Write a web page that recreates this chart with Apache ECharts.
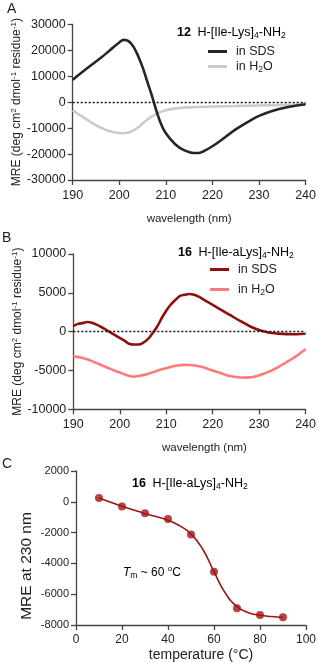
<!DOCTYPE html>
<html>
<head>
<meta charset="utf-8">
<script src="https://cdn.jsdelivr.net/npm/echarts@6/dist/echarts.min.js"></script>
<style>html,body{margin:0;padding:0;background:#fff;}#c{width:319px;height:663px;}</style>
</head>
<body>
<div id="c"></div>
<script>
// Panel A: 12 H-[Ile-Lys]4-NH2
const wlA_SDS = [190,192,194,196,198,200,201,202,203,204,205,206,207,208,209,210,212,214,216,217,218,220,222,225,228,230,233,236,240];
const mreA_SDS = [8600,11500,14300,17000,20000,23000,24000,23500,21500,18000,13500,8000,2500,-3500,-8500,-12000,-16200,-18600,-19600,-19600,-19000,-17000,-14500,-10500,-7200,-5300,-3300,-2000,-800];
const wlA_H2O = [190,192,194,196,198,200,201,202,203,204,205,206,207,208,209,210,212,215,220,225,230,235,240];
const mreA_H2O = [-3200,-5500,-7800,-9800,-11200,-11900,-12000,-11700,-11000,-9800,-8200,-6800,-5500,-4500,-3700,-3100,-2400,-2000,-1700,-1500,-1300,-1100,-900];

// Panel B: 16 H-[Ile-aLys]4-NH2
const wlB_SDS = [190,191,192,193,194,195,196,197,198,199,200,201,202,203,204,205,206,207,208,209,210,211,212,213,214,215,216,217,218,219,220,222,224,226,228,230,232,234,236,238,240];
const mreB_SDS = [700,1000,1100,1250,1150,900,600,250,-100,-450,-800,-1150,-1550,-1650,-1650,-1450,-1000,-250,600,1700,2700,3500,4100,4600,4750,4850,4750,4500,4150,3800,3450,2750,2050,1350,700,200,-100,-250,-320,-330,-270];
const wlB_H2O = [190,191,192,193,194,195,196,197,198,199,200,201,202,203,204,205,206,207,208,209,210,211,212,213,214,215,216,217,218,219,220,221,222,223,224,225,226,227,228,229,230,231,232,233,234,235,236,237,238,239,240];
const mreB_H2O = [-3200,-3250,-3400,-3550,-3800,-4050,-4300,-4550,-4800,-5050,-5250,-5500,-5700,-5800,-5700,-5600,-5450,-5250,-5050,-4850,-4700,-4550,-4400,-4320,-4280,-4300,-4350,-4450,-4600,-4800,-5000,-5200,-5400,-5600,-5750,-5850,-5900,-5920,-5880,-5800,-5620,-5420,-5180,-4900,-4600,-4250,-3900,-3550,-3150,-2700,-2250];

// Panel C: thermal melt at 230 nm
const tempC = [10,20,30,40,50,60,70,80,90];
const mreC = [240,-300,-750,-1120,-2130,-4540,-6920,-7350,-7500];
const fitT = [10,20,30,40,45,50,55,60,65,70,75,80,85,90];
const fitMre = [240,-290,-760,-1200,-1550,-2080,-3050,-4540,-5950,-6800,-7200,-7370,-7450,-7500];

const ticksA_y = {min:-30000,max:30000,interval:10000};
const ticksB_y = {min:-10000,max:10000,interval:5000};
const ticksC_y = {min:-8000,max:2000,interval:2000};
const ticksWl = {min:190,max:240,interval:10};
const ticksT = {min:0,max:100,interval:20};

const FF = '"Liberation Sans", Arial, sans-serif';
const AX = '#444';
const pair = (xs, ys) => xs.map((x,i)=>[x, ys[i]]);

const subRich = {
  n:{fontSize:12,fontFamily:FF,color:'#222'},
  b:{fontSize:12.5,fontFamily:FF,fontWeight:'bold',color:'#222'},
  t:{fontSize:12.5,fontFamily:FF,color:'#222'},
  sub:{fontSize:8.5,fontFamily:FF,color:'#222',verticalAlign:'bottom',padding:[6,0,0,0]},
  sup:{fontSize:8,fontFamily:FF,color:'#222',verticalAlign:'top',padding:[0,0,6,0]},
  i:{fontSize:12,fontFamily:FF,fontStyle:'italic',color:'#222'}
};

const plain = v => String(v);
function xAxis(idx, t, name, gap, nfs, lfs, pad){
  return {type:'value', gridIndex:idx, min:t.min, max:t.max, interval:t.interval,
    name:name, nameLocation:'middle', nameGap:gap, nameMoveOverlap:false,
    nameTextStyle:{fontSize:nfs,fontFamily:FF,color:'#222',padding:pad},
    axisLine:{show:true,onZero:false,lineStyle:{color:AX,width:1.3}},
    axisTick:{show:true,inside:false,length:5,lineStyle:{color:AX,width:1.3}},
    axisLabel:{fontSize:lfs,fontFamily:FF,color:'#222',margin:9,formatter:plain},
    splitLine:{show:false}};
}
function yAxis(idx, t, name, gap, nfs, lfs, pad){
  return {type:'value', gridIndex:idx, min:t.min, max:t.max, interval:t.interval,
    name:name, nameLocation:'middle', nameGap:gap, nameRotate:90, nameMoveOverlap:false,
    nameTextStyle:{fontSize:nfs,fontFamily:FF,color:'#222',rich:subRich,padding:pad},
    axisLine:{show:true,lineStyle:{color:AX,width:1.3}},
    axisTick:{show:true,inside:false,length:5,lineStyle:{color:AX,width:1.3}},
    axisLabel:{fontSize:lfs,fontFamily:FF,color:'#222',margin:7,formatter:plain},
    splitLine:{show:false}};
}
const zeroLine = {silent:true, symbol:'none', label:{show:false},
  lineStyle:{type:[2,2],color:'#111',width:1.3}, data:[{yAxis:0}]};

function lineS(name, xi, data, color, extra){
  return Object.assign({name:name, type:'line', xAxisIndex:xi, yAxisIndex:xi, data:data,
    smooth:0.4, symbol:'none', lineStyle:{color:color,width:2.6}, itemStyle:{color:color}, z:3}, extra||{});
}

const yName = 'MRE (deg cm{sup|2} dmol{sup|-1} residue{sup|-1})';
const legName = {aSDS:'in SDS', aH2O:'in H{sub|2}O', bSDS:'in SDS', bH2O:'in H{sub|2}O'};
function legend(names, left, top, gap){
  return {data:names, orient:'vertical', left:left, top:top, itemGap:gap, itemWidth:19, itemHeight:3,
    icon:'rect', selectedMode:false,
    formatter:n=>legName[n],
    textStyle:{fontSize:12.5,fontFamily:FF,color:'#222',rich:subRich,padding:[0,0,0,4]}};
}

const chart = echarts.init(document.getElementById('c'), null, {renderer:'canvas'});
chart.setOption({
  animation:false,
  backgroundColor:'#fff',
  grid:[
    {left:72.7, top:24.3, width:233.3, height:155.7},
    {left:73.3, top:254, width:234, height:155.3},
    {left:76, top:471, width:231.3, height:155}
  ],
  xAxis:[
    xAxis(0,ticksWl,'wavelength (nm)',33,11.5,12.5,[0,0,0,0]),
    xAxis(1,ticksWl,'wavelength (nm)',33,11.5,12.5,[0,0,0,30]),
    xAxis(2,ticksT,'temperature (°C)',23,14,12,[0,0,0,20])
  ],
  yAxis:[
    yAxis(0,ticksA_y,yName,49,12,12.5,[0,0,0,0]),
    yAxis(1,ticksB_y,yName,49,12,12.5,[0,0,0,0]),
    yAxis(2,ticksC_y,'MRE at 230 nm',41,15.5,11,[0,36,0,0])
  ],
  legend:[legend(['aSDS','aH2O'],203,40,2), legend(['bSDS','bH2O'],205,258,7)],
  series:[
    lineS('aH2O',0,pair(wlA_H2O,mreA_H2O),'#cbcbcb'),
    lineS('aSDS',0,pair(wlA_SDS,mreA_SDS),'#262626',{z:4, markLine:zeroLine}),
    lineS('bH2O',1,pair(wlB_H2O,mreB_H2O),'#ff7b7b'),
    lineS('bSDS',1,pair(wlB_SDS,mreB_SDS),'#8e0f0f',{z:4, markLine:zeroLine}),
    {name:'fit', type:'line', xAxisIndex:2, yAxisIndex:2, data:pair(fitT,fitMre), smooth:0.5,
      symbol:'none', lineStyle:{color:'#9e1414',width:1.6}, z:3},
    {name:'pts', type:'scatter', xAxisIndex:2, yAxisIndex:2, data:pair(tempC,mreC), symbol:'circle', symbolSize:8,
      itemStyle:{color:'#a31515'}, z:4}
  ],
  graphic:[
    {type:'text', left:7, top:2, style:{text:'A', fontSize:14, fontFamily:FF, fill:'#222'}},
    {type:'text', left:2, top:231, style:{text:'B', fontSize:14, fontFamily:FF, fill:'#222'}},
    {type:'text', left:2, top:457, style:{text:'C', fontSize:14, fontFamily:FF, fill:'#222'}},
    {type:'text', left:177, top:26, style:{text:'{b|12}  {t|H-[Ile-Lys]}{sub|4}{t|-NH}{sub|2}', rich:subRich}},
    {type:'text', left:178, top:246, style:{text:'{b|16}  {t|H-[Ile-aLys]}{sub|4}{t|-NH}{sub|2}', rich:subRich}},
    {type:'text', left:132, top:477, style:{text:'{b|16}  {t|H-[Ile-aLys]}{sub|4}{t|-NH}{sub|2}', rich:subRich}},
    {type:'text', left:123, top:565, style:{text:'{i|T}{sub|m}{n| ~ 60 }{sup|o}{n|C}', rich:subRich}}
  ]
});
</script>
</body>
</html>
